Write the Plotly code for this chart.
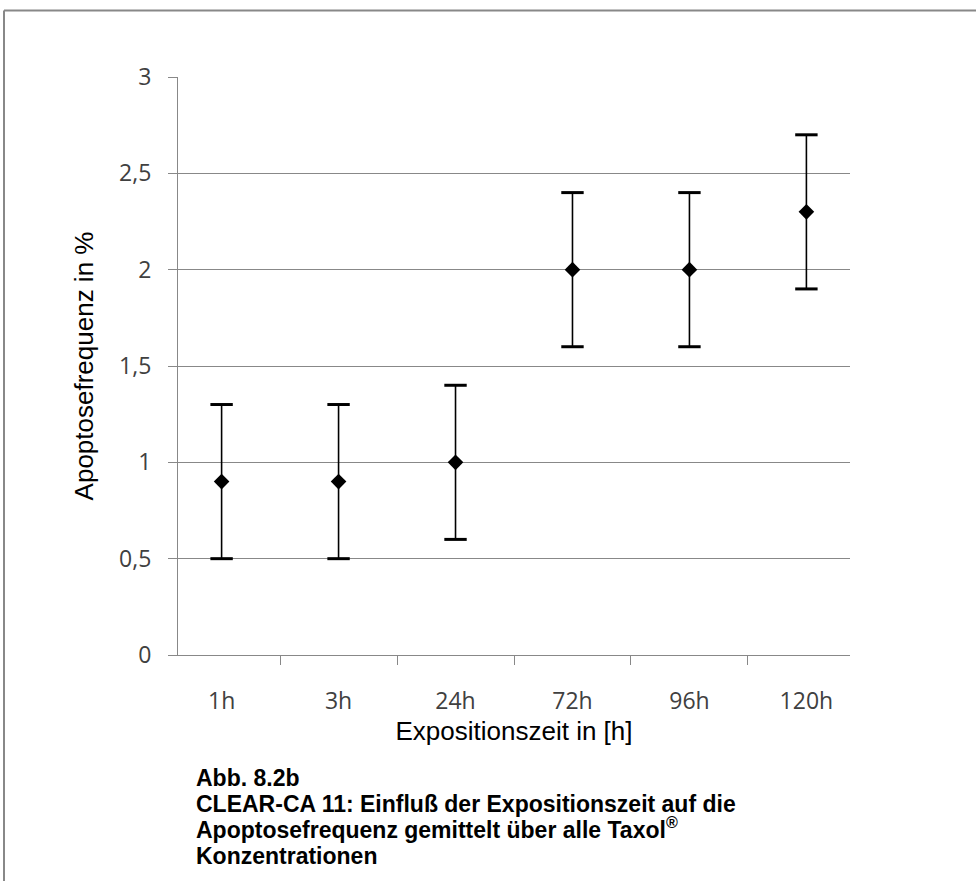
import plotly.graph_objects as go

# data
zeiten = ["1h", "3h", "24h", "72h", "96h", "120h"]
apoptose = [0.9, 0.9, 1.0, 2.0, 2.0, 2.3]
fehler = [0.4, 0.4, 0.4, 0.4, 0.4, 0.4]
y_ticks = [0, 0.5, 1, 1.5, 2, 2.5, 3]
y_labels = ["0", "0,5", "1", "1,5", "2", "2,5", "3"]

caption_lines = [
    "Abb. 8.2b",
    "CLEAR-CA 11: Einfluß der Expositionszeit auf die",
    "Apoptosefrequenz gemittelt über alle Taxol<sup>®</sup>",
    "Konzentrationen",
]

W, H = 976, 881
L, T, R, B = 178, 77, 976 - 850, 881 - 655
pw, ph = W - L - R, H - T - B


def px_x(x):
    return (x - L) / pw


def px_y(y):
    return (H - B - y) / ph


fig = go.Figure()
fig.add_trace(
    go.Scatter(
        x=zeiten,
        y=apoptose,
        mode="markers",
        marker=dict(symbol="diamond", size=12, color="black"),
        error_y=dict(
            type="data",
            array=fehler,
            visible=True,
            color="black",
            thickness=1.6,
            width=0,
        ),
        showlegend=False,
        hoverinfo="skip",
    )
)

# heavier end caps of the error bars
cap_x = zeiten + zeiten
cap_y = [a + f for a, f in zip(apoptose, fehler)] + [a - f for a, f in zip(apoptose, fehler)]
fig.add_trace(
    go.Scatter(
        x=cap_x,
        y=cap_y,
        mode="markers",
        marker=dict(symbol="line-ew-open", size=16, color="black",
                    line=dict(color="black", width=3)),
        showlegend=False,
        hoverinfo="skip",
    )
)

# frame around the figure (top and left edge visible)
grey = "#888888"
fig.add_shape(type="line", xref="paper", yref="paper",
              x0=px_x(4), x1=px_x(990), y0=px_y(10.5), y1=px_y(10.5),
              line=dict(color=grey, width=2))
fig.add_shape(type="line", xref="paper", yref="paper",
              x0=px_x(4), x1=px_x(4), y0=px_y(10.5), y1=px_y(900),
              line=dict(color=grey, width=2))

for i, line in enumerate(caption_lines):
    fig.add_annotation(
        text=line,
        xref="paper", yref="paper",
        x=px_x(194), y=px_y(793 + 26 * i),
        xanchor="left", yanchor="bottom",
        align="left", showarrow=False,
        font=dict(family="Liberation Sans", size=23, color="black", weight="bold"),
    )

fig.update_xaxes(
    type="category",
    showline=True, linecolor=grey, linewidth=1.2,
    ticks="outside", ticklen=9, tickcolor=grey, tickson="boundaries",
    ticklabelstandoff=25,
    showgrid=False,
    tickfont=dict(family="Open Sans", size=23, color="#404040"),
    title=dict(text="Expositionszeit in [h]", standoff=5,
               font=dict(family="Liberation Sans", size=26, color="black")),
)
fig.update_yaxes(
    range=[0, 3],
    tickvals=y_ticks, ticktext=y_labels,
    showline=True, linecolor=grey, linewidth=1.2,
    ticks="outside", ticklen=9, tickcolor=grey,
    ticklabelstandoff=12,
    showgrid=True, gridcolor=grey, gridwidth=1,
    zeroline=False,
    tickfont=dict(family="Open Sans", size=23, color="#404040"),
    title=dict(text="Apoptosefrequenz in %", standoff=17,
               font=dict(family="Liberation Sans", size=26, color="black")),
)

fig.update_layout(
    width=W, height=H,
    margin=dict(l=L, r=R, t=T, b=B),
    paper_bgcolor="white",
    plot_bgcolor="white",
)

# drop the default page margin so the figure sits at the window's corner
fig.write_html(
    "out.html",
    config={"displayModeBar": False},
    post_script="document.body.style.margin='0';document.body.style.overflow='hidden';",
)
